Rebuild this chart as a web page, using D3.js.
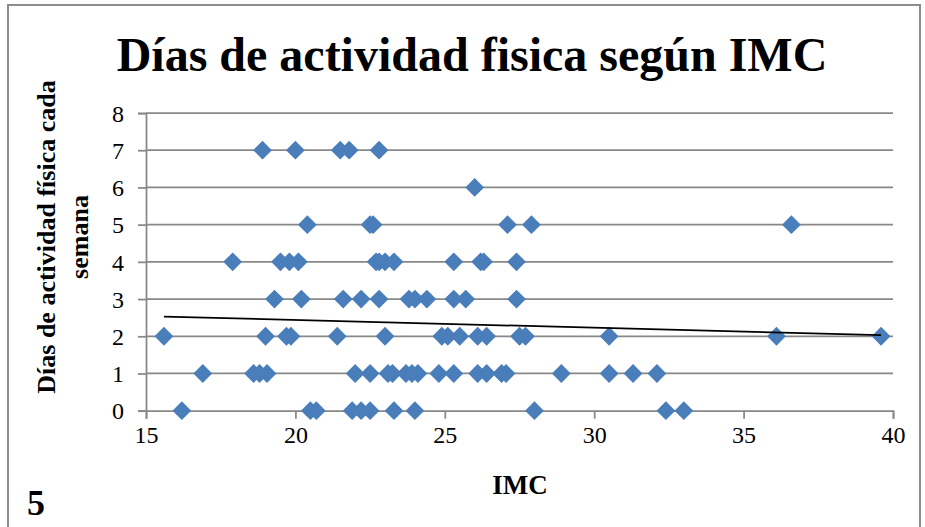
<!DOCTYPE html>
<html>
<head>
<meta charset="utf-8">
<script src="https://cdn.jsdelivr.net/npm/d3@7"></script>
<style>
  html, body { margin: 0; padding: 0; background: #fff; }
  svg { display: block; }
  text { font-family: "Liberation Serif", "Times New Roman", serif; fill: #000; }
</style>
</head>
<body>
<script>
// ---- Data ----
const titleText = "Días de actividad fisica según IMC";
const xAxisTitle = "IMC";
const yAxisTitleLines = ["Días de actividad física cada", "semana"];
const xTicks = [15, 20, 25, 30, 35, 40];
const yTicks = [0, 1, 2, 3, 4, 5, 6, 7, 8];

// IMC values grouped by the number of activity days
const imcDays0 = [16.2, 20.5, 20.7, 21.9, 22.2, 22.5, 23.3, 24.0, 28.0, 32.4, 33.0];
const imcDays1 = [16.9, 18.6, 18.8, 19.05, 22.0, 22.5, 23.1, 23.25, 23.7, 23.9, 24.1, 24.8, 25.3, 26.1, 26.4, 26.9, 27.05, 28.9, 30.5, 31.3, 32.1];
const imcDays2 = [15.6, 19.0, 19.7, 19.85, 21.4, 23.0, 24.9, 25.1, 25.5, 26.1, 26.4, 27.5, 27.7, 30.5, 36.1, 39.6];
const imcDays3 = [19.3, 20.2, 21.6, 22.2, 22.8, 23.8, 24.0, 24.4, 25.3, 25.7, 27.4];
const imcDays4 = [17.9, 19.5, 19.8, 20.1, 22.7, 22.8, 23.0, 23.3, 25.3, 26.2, 26.3, 27.4];
const imcDays5 = [20.4, 22.5, 22.6, 27.1, 27.9, 36.6];
const imcDays6 = [26.0];
const imcDays7 = [18.9, 20.0, 21.5, 21.8, 22.8];
const imcByDays = [imcDays0, imcDays1, imcDays2, imcDays3, imcDays4, imcDays5, imcDays6, imcDays7];

// Linear trendline as shown in the reference (endpoints)
const trendX = [15.6, 39.6];
const trendY = [2.53, 2.03];

// ---- Build points ----
const points = [];
imcByDays.forEach((arr, days) => arr.forEach(imc => points.push({x: imc, y: days})));

// ---- Layout ----
const W = 925, H = 527;
const plot = {left: 146, right: 893, top: 113, bottom: 410.7};
const serif = '"Liberation Serif", "Times New Roman", serif';

const svg = d3.select("body").append("svg").attr("width", W).attr("height", H);

// Outer frame
svg.append("path")
  .attr("d", `M8,${H + 5} L8,5 L920,5 L920,${H + 5}`)
  .attr("fill", "none").attr("stroke", "#8c8c8c").attr("stroke-width", 2);

const x = d3.scaleLinear().domain([15, 40]).range([plot.left, plot.right]);
const y = d3.scaleLinear().domain([0, 8]).range([plot.bottom, plot.top]);

const gridColor = "#888888";

// Horizontal gridlines
svg.append("g").selectAll("line").data(yTicks.filter(t => t > 0)).join("line")
  .attr("x1", plot.left).attr("x2", plot.right)
  .attr("y1", d => y(d)).attr("y2", d => y(d))
  .attr("stroke", gridColor).attr("stroke-width", 1.75);

// Y axis
const yAxis = svg.append("g").attr("transform", `translate(${plot.left},0)`)
  .attr("font-family", serif).attr("font-size", 24)
  .call(d3.axisLeft(y).tickValues(yTicks).tickSize(8).tickPadding(14).tickFormat(d3.format("d")));
yAxis.attr("font-family", serif).attr("font-size", 24);
yAxis.select(".domain").attr("stroke", gridColor).attr("stroke-width", 1.75);
yAxis.selectAll(".tick line").attr("stroke", gridColor).attr("stroke-width", 1.75);
yAxis.selectAll(".tick text")
  .style("font-family", serif).style("font-size", "24px").attr("fill", "#000").attr("dy", "0.34em");

// X axis
const xAxis = svg.append("g").attr("transform", `translate(0,${plot.bottom})`)
  .call(d3.axisBottom(x).tickValues(xTicks).tickSize(8).tickPadding(7).tickFormat(d3.format("d")));
xAxis.attr("font-family", serif).attr("font-size", 24);
xAxis.select(".domain").attr("stroke", gridColor).attr("stroke-width", 1.75);
xAxis.selectAll(".tick line").attr("stroke", gridColor).attr("stroke-width", 1.75);
xAxis.selectAll(".tick text")
  .style("font-family", serif).style("font-size", "24px").attr("fill", "#000");

// Markers (diamonds)
const r = 9.4;
const diamond = `M0,${-r}L${r},0L0,${r}L${-r},0Z`;
svg.append("g").selectAll("path").data(points).join("path")
  .attr("d", diamond)
  .attr("transform", d => `translate(${x(d.x)},${y(d.y)})`)
  .attr("fill", "#4A7EBB");

// Linear trendline
svg.append("path")
  .datum(trendX.map((v, i) => [v, trendY[i]]))
  .attr("d", d3.line().x(d => x(d[0])).y(d => y(d[1])))
  .attr("fill", "none").attr("stroke", "#000").attr("stroke-width", 1.75);

// Title
svg.append("text").attr("x", 472).attr("y", 71)
  .attr("text-anchor", "middle").attr("font-weight", "bold").attr("font-size", 48)
  .text(titleText);

// X axis title
svg.append("text").attr("x", 520).attr("y", 494)
  .attr("text-anchor", "middle").attr("font-weight", "bold").attr("font-size", 27)
  .text(xAxisTitle);

// Y axis title (two lines, rotated)
const yt = svg.append("g").attr("transform", "translate(0,237)");
yAxisTitleLines.forEach((line, i) => {
  yt.append("text")
    .attr("transform", `translate(${55 + i * 33},0) rotate(-90)`)
    .attr("text-anchor", "middle").attr("font-weight", "bold").attr("font-size", 26)
    .text(line);
});

// Page marker "5"
svg.append("text").attr("x", 27).attr("y", 515)
  .attr("font-weight", "bold").attr("font-size", 36).text("5");
</script>
</body>
</html>
